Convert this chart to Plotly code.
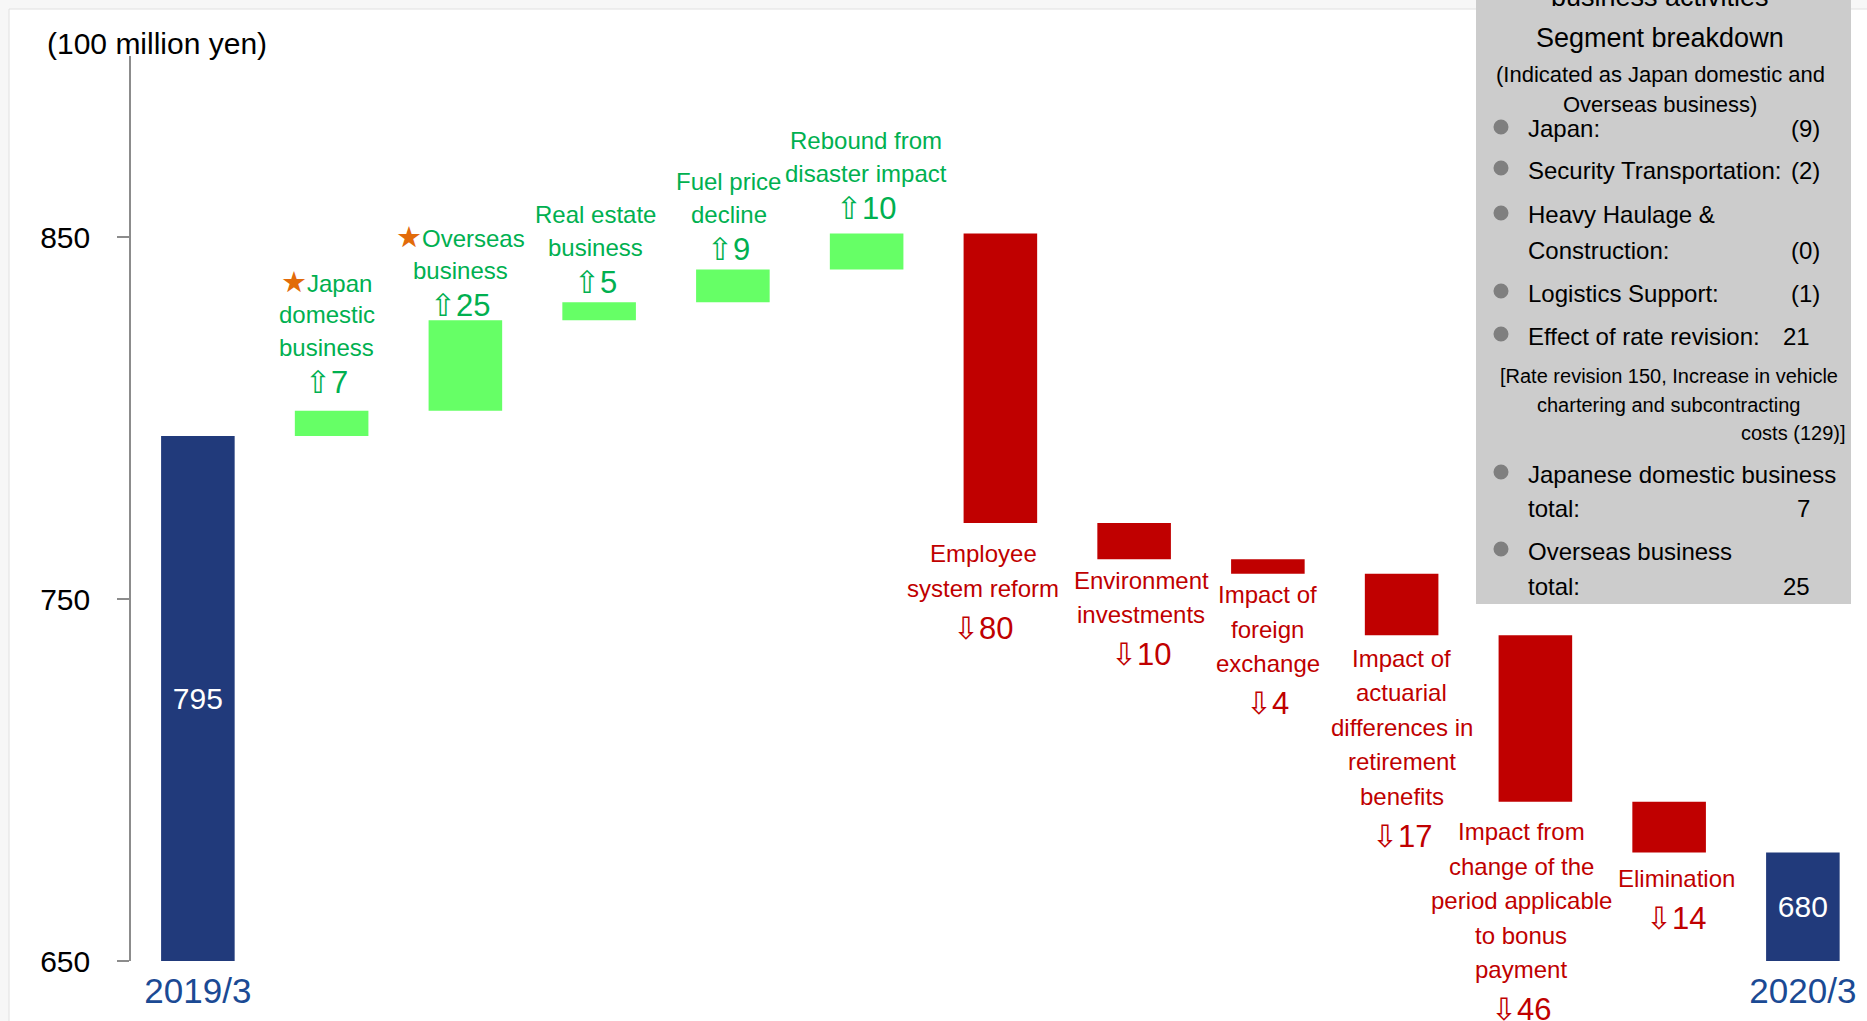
import plotly.graph_objects as go

# ---------------- data ----------------
categories = ["2019/3", "Japan domestic business", "Overseas business", "Real estate business",
              "Fuel price decline", "Rebound from disaster impact", "Employee system reform",
              "Environment investments", "Impact of foreign exchange",
              "Impact of actuarial differences in retirement benefits",
              "Impact from change of the period applicable to bonus payment",
              "Elimination", "2020/3"]
start_value = 795
deltas = [7, 25, 5, 9, 10, -80, -10, -4, -17, -46, -14]
end_value = 680
label_lines = [
    ["★Japan", "domestic", "business"],
    ["★Overseas", "business"],
    ["Real estate", "business"],
    ["Fuel price", "decline"],
    ["Rebound from", "disaster impact"],
    ["Employee", "system reform"],
    ["Environment", "investments"],
    ["Impact of", "foreign", "exchange"],
    ["Impact of", "actuarial", "differences in", "retirement", "benefits"],
    ["Impact from", "change of the", "period applicable", "to bonus", "payment"],
    ["Elimination"],
]
x_tick_labels = ["2019/3", "2020/3"]
y_tick_values = [650, 750, 850]
unit_label = "(100 million yen)"

box_title = ["business activities", "Segment breakdown"]
box_subtitle = ["(Indicated as Japan domestic and", "Overseas business)"]
box_items = [
    (["Japan:"], "(9)"),
    (["Security Transportation:"], "(2)"),
    (["Heavy Haulage &", "Construction:"], "(0)"),
    (["Logistics Support:"], "(1)"),
    (["Effect of rate revision:"], "21"),
    (["Japanese domestic business", "total:"], "7"),
    (["Overseas business", "total:"], "25"),
]
box_note = ["[Rate revision 150, Increase in vehicle", "chartering and subcontracting", "costs (129)]"]

# ---------------- style / layout ----------------
FONT = "Liberation Sans, Arial, sans-serif"
GREEN_BAR, RED_BAR, NAVY = "#66FF66", "#C00000", "#213A7B"
GREEN_TXT, RED_TXT, TICK_BLUE = "#00B050", "#C00000", "#1B4A94"
STAR = "#E26B0A"

FIG_W, FIG_H = 1867, 1021
L, R_EDGE, T, B = 131, 1867, 56, 961
W, H = R_EDGE - L, B - T
Y_MIN, Y_MAX = 650, 900


def fx(px):
    return (px - L) / W


def fy(py):
    return (B - py) / H


# bar geometry from data (totals drawn from the axis floor)
bases, ys, colors, texts = [], [], [], []
level = start_value
bases.append(Y_MIN); ys.append(start_value - Y_MIN); colors.append(NAVY); texts.append(str(start_value))
levels_after = []
for d in deltas:
    bases.append(level); ys.append(d)
    colors.append(GREEN_BAR if d > 0 else RED_BAR); texts.append("")
    level += d
    levels_after.append(level)
bases.append(Y_MIN); ys.append(end_value - Y_MIN); colors.append(NAVY); texts.append(str(end_value))
xs = list(range(len(categories)))

fig = go.Figure()
fig.add_trace(go.Bar(
    x=xs, y=ys, base=bases, width=0.55,
    marker=dict(color=colors, line=dict(width=0)),
    text=texts, textposition="inside", insidetextanchor="middle",
    textfont=dict(family=FONT, size=30, color="white"), constraintext="none",
    hoverinfo="skip", showlegend=False,
))

annotations = []
# bar labels
label_dx = [-5, -5, -4, -4, -1, -17, 7, 0, 0, -14, 7]
label_gap = [28, 15, 20, 20, 25, 31, 21, 21, 23, 30, 26]
LH_UP, NUM_UP = 33, 35
LH_DN, NUM_DN = 34.5, 40
for i, (d, lines) in enumerate(zip(deltas, label_lines)):
    xi = i + 1
    col = GREEN_TXT if d > 0 else RED_TXT
    n = len(lines)
    arrow = "⇧" if d > 0 else "⇩"
    y_ref = levels_after[i]
    if d > 0:
        num_shift = label_gap[i]
        line_shifts = [label_gap[i] + NUM_UP + (n - 1 - j) * LH_UP for j in range(n)]
    else:
        line_shifts = [-(label_gap[i] + j * LH_DN) for j in range(n)]
        num_shift = -(label_gap[i] + (n - 1) * LH_DN + NUM_DN)
    for j, ln in enumerate(lines):
        txt = ln.replace("★", f'<span style="color:{STAR};font-size:29px">★</span>')
        annotations.append(dict(x=xi, y=y_ref, xref="x", yref="y", text=txt, showarrow=False,
                                xanchor="center", yanchor="middle", xshift=label_dx[i],
                                yshift=line_shifts[j], font=dict(family=FONT, size=24, color=col)))
    annotations.append(dict(x=xi, y=y_ref, xref="x", yref="y", text=f"{arrow}{abs(d)}",
                            showarrow=False, xanchor="center", yanchor="middle",
                            xshift=label_dx[i], yshift=num_shift,
                            font=dict(family=FONT, size=31, color=col)))

# unit label
annotations.append(dict(x=fx(45), y=fy(44), xref="paper", yref="paper", text=unit_label,
                        showarrow=False, xanchor="left", yanchor="middle",
                        font=dict(family=FONT, size=30, color="black")))

# gray box text
BOX_L, BOX_R, BOX_B = 1476, 1851, 604
BOX_CX = 1660
for txt, py in zip(box_title, [-3, 38]):
    annotations.append(dict(x=fx(BOX_CX), y=fy(py), xref="paper", yref="paper", text=txt,
                            showarrow=False, xanchor="center", yanchor="middle",
                            font=dict(family=FONT, size=27, color="black")))
for txt, py in zip(box_subtitle, [74, 105]):
    annotations.append(dict(x=fx(BOX_CX), y=fy(py), xref="paper", yref="paper", text=txt,
                            showarrow=False, xanchor="center", yanchor="middle",
                            font=dict(family=FONT, size=22, color="black")))
item_rows = [[129], [170], [215, 250], [293], [336], [474, 508], [551, 586]]
shapes = []
for (lines, val), rows in zip(box_items, item_rows):
    for ln, py in zip(lines, rows):
        annotations.append(dict(x=fx(1526), y=fy(py), xref="paper", yref="paper", text=ln,
                                showarrow=False, xanchor="left", yanchor="middle",
                                font=dict(family=FONT, size=24, color="black")))
    vx = 1822 if val.startswith("(") else 1812
    annotations.append(dict(x=fx(vx), y=fy(rows[-1]), xref="paper", yref="paper", text=val,
                            showarrow=False, xanchor="right", yanchor="middle",
                            font=dict(family=FONT, size=24, color="black")))
    r = 7.5
    shapes.append(dict(type="circle", xref="paper", yref="paper",
                       x0=fx(1501 - r), x1=fx(1501 + r), y0=fy(rows[0] - 2 + r), y1=fy(rows[0] - 2 - r),
                       fillcolor="#7F7F7F", line=dict(width=0), layer="above"))
note_pos = [(1669, 376, "center"), (1669, 405, "center"), (1847, 433, "right")]
for txt, (px, py, anc) in zip(box_note, note_pos):
    annotations.append(dict(x=fx(px), y=fy(py), xref="paper", yref="paper", text=txt,
                            showarrow=False, xanchor=anc, yanchor="middle",
                            font=dict(family=FONT, size=20, color="black")))

# frame + box shapes
shapes.insert(0, dict(type="rect", xref="paper", yref="paper", x0=fx(9), x1=fx(1900),
                      y0=fy(1100), y1=fy(9), fillcolor="white",
                      line=dict(color="#E0E0E0", width=1), layer="below"))
shapes.insert(1, dict(type="rect", xref="paper", yref="paper", x0=fx(BOX_L), x1=fx(BOX_R),
                      y0=fy(BOX_B), y1=fy(-20), fillcolor="#CCCCCC", line=dict(width=0),
                      layer="above"))

fig.update_layout(
    width=FIG_W, height=FIG_H,
    margin=dict(l=L, r=FIG_W - R_EDGE, t=T, b=FIG_H - B, pad=0),
    paper_bgcolor="#F7F7F7", plot_bgcolor="rgba(0,0,0,0)",
    bargap=0.45,
    xaxis=dict(range=[-0.5, -0.5 + W / 133.75], tickvals=[0, len(categories) - 1],
               ticktext=x_tick_labels, showgrid=False, zeroline=False, showline=False,
               ticks="", tickfont=dict(family=FONT, size=35, color=TICK_BLUE),
               ticklabeloverflow="allow", ticklabelstandoff=6, fixedrange=True),
    yaxis=dict(range=[Y_MIN, Y_MAX], tickvals=y_tick_values, showgrid=False, zeroline=False,
               showline=True, linecolor="#8C8C8C", linewidth=1.5, ticks="outside",
               ticklen=12, tickwidth=1.5, tickcolor="#8C8C8C", ticklabelstandoff=21,
               tickfont=dict(family=FONT, size=30, color="black"), fixedrange=True),
    annotations=annotations, shapes=shapes,
    font=dict(family=FONT),
)

fig.write_html("out.html", config={"displayModeBar": False},
               post_script="document.body.style.margin='0px';document.body.style.overflow='hidden';")
